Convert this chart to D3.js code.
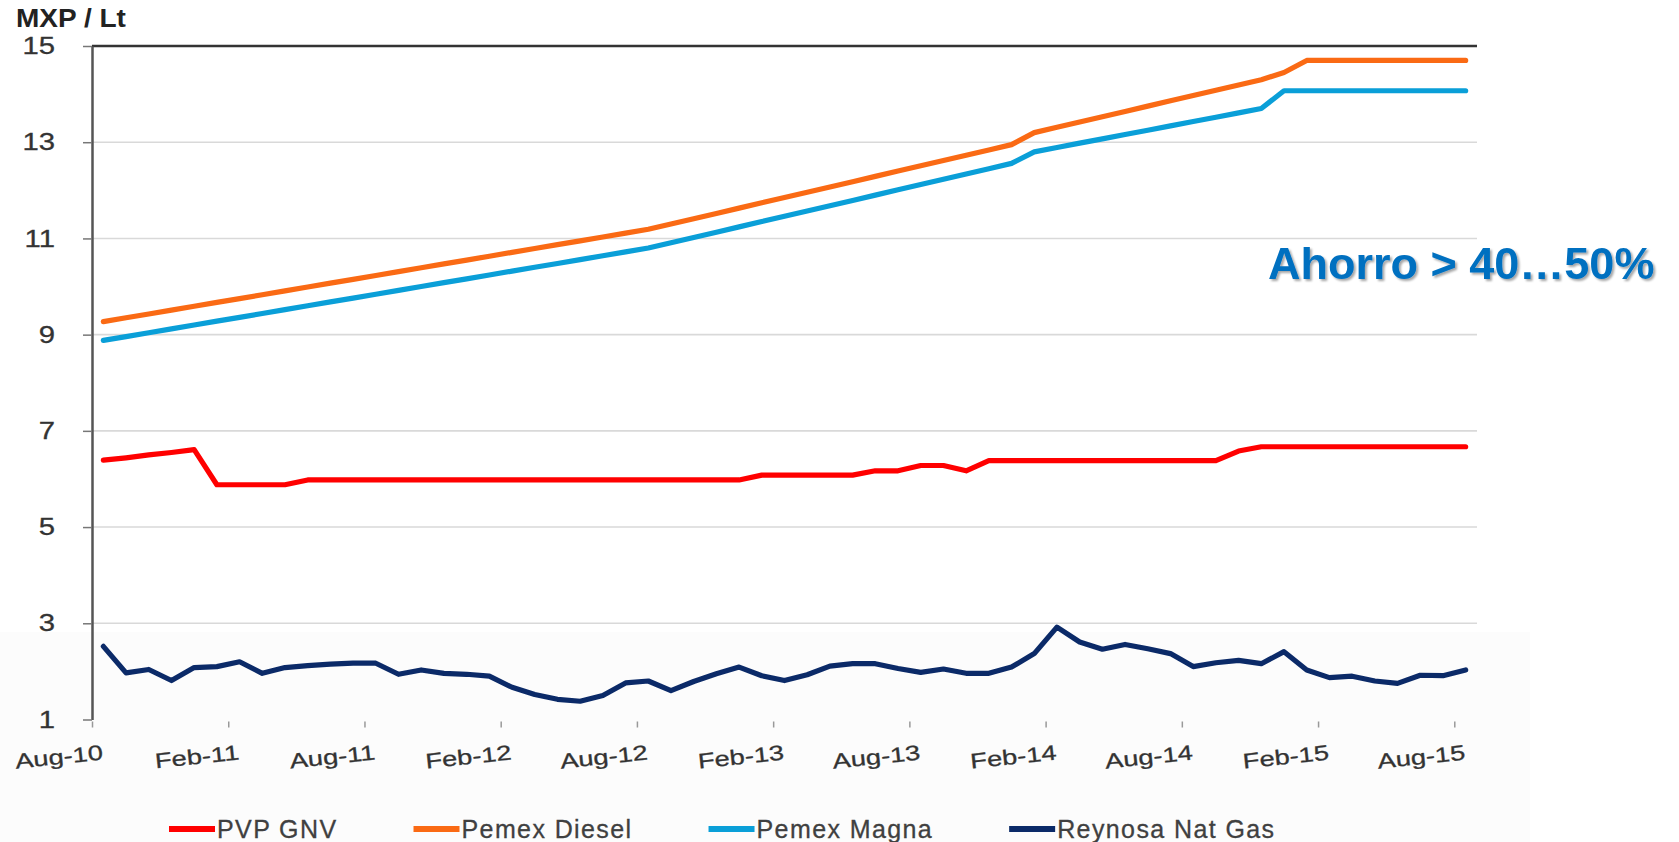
<!DOCTYPE html>
<html>
<head>
<meta charset="utf-8">
<script src="https://cdn.jsdelivr.net/npm/d3@7"></script>
<style>
  html, body { margin: 0; padding: 0; background: #fff; }
  svg { display: block; }
  text { font-family: "Liberation Sans", Arial, sans-serif; }
</style>
</head>
<body>
<div id="chart"></div>
<script>
// month index 0 = Aug-10 ... 60 = Aug-15
var tickLabels = ["Aug-10", "Feb-11", "Aug-11", "Feb-12", "Aug-12", "Feb-13", "Aug-13", "Feb-14", "Aug-14", "Feb-15", "Aug-15"];
var yTicks = [1, 3, 5, 7, 9, 11, 13, 15];

var pvpGnv = [6.39, 6.44, 6.50, 6.55, 6.61, 5.88, 5.88, 5.88, 5.88, 5.98,
  5.98, 5.98, 5.98, 5.98, 5.98, 5.98, 5.98, 5.98, 5.98, 5.98,
  5.98, 5.98, 5.98, 5.98, 5.98, 5.98, 5.98, 5.98, 5.98, 6.08,
  6.08, 6.08, 6.08, 6.08, 6.17, 6.17, 6.28, 6.28, 6.17, 6.38,
  6.38, 6.38, 6.38, 6.38, 6.38, 6.38, 6.38, 6.38, 6.38, 6.38,
  6.58, 6.67, 6.67, 6.67, 6.67, 6.67, 6.67, 6.67, 6.67, 6.67, 6.67];

var pemexDiesel = [9.27, 9.35, 9.43, 9.51, 9.59, 9.67, 9.75, 9.83, 9.91, 9.99,
  10.07, 10.15, 10.23, 10.31, 10.39, 10.47, 10.55, 10.63, 10.71, 10.79,
  10.87, 10.95, 11.03, 11.11, 11.19, 11.30, 11.41, 11.52, 11.63, 11.74,
  11.85, 11.96, 12.07, 12.18, 12.29, 12.40, 12.51, 12.62, 12.73, 12.84,
  12.95, 13.20, 13.31, 13.42, 13.53, 13.64, 13.75, 13.86, 13.97, 14.08,
  14.19, 14.30, 14.45, 14.70, 14.70, 14.70, 14.70, 14.70, 14.70, 14.70, 14.70];

var pemexMagna = [8.88, 8.96, 9.04, 9.12, 9.20, 9.28, 9.36, 9.44, 9.52, 9.60,
  9.68, 9.76, 9.84, 9.92, 10.00, 10.08, 10.16, 10.24, 10.32, 10.40,
  10.48, 10.56, 10.64, 10.72, 10.80, 10.91, 11.02, 11.13, 11.24, 11.35,
  11.46, 11.57, 11.68, 11.79, 11.90, 12.01, 12.12, 12.23, 12.34, 12.45,
  12.56, 12.80, 12.89, 12.98, 13.07, 13.16, 13.25, 13.34, 13.43, 13.52,
  13.61, 13.70, 14.07, 14.07, 14.07, 14.07, 14.07, 14.07, 14.07, 14.07, 14.07];

var reynosaNatGas = [2.52, 1.97, 2.04, 1.81, 2.08, 2.10, 2.20, 1.96, 2.08, 2.12,
  2.15, 2.17, 2.17, 1.94, 2.03, 1.96, 1.94, 1.90, 1.67, 1.52,
  1.42, 1.38, 1.50, 1.76, 1.80, 1.60, 1.79, 1.95, 2.09, 1.91,
  1.81, 1.93, 2.11, 2.16, 2.16, 2.06, 1.98, 2.05, 1.96, 1.96,
  2.09, 2.37, 2.92, 2.61, 2.46, 2.56, 2.47, 2.37, 2.10, 2.18,
  2.23, 2.16, 2.41, 2.03, 1.87, 1.90, 1.80, 1.75, 1.92, 1.91, 2.03];

var seriesNames = ["PVP GNV", "Pemex Diesel", "Pemex Magna", "Reynosa Nat Gas"];
var seriesColors = ["#ff0000", "#fa6a14", "#0a9fd8", "#0b2a68"];
var seriesData = [pvpGnv, pemexDiesel, pemexMagna, reynosaNatGas];

var W = 1679, H = 842;
var svg = d3.select("#chart").append("svg").attr("width", W).attr("height", H);

// drop shadow for the note
var defs = svg.append("defs");
defs.append("filter").attr("id", "shadow")
  .append("feDropShadow")
  .attr("dx", 2).attr("dy", 2).attr("stdDeviation", 1.2)
  .attr("flood-color", "#000").attr("flood-opacity", 0.35);

// faint lower band seen in the picture
svg.append("rect").attr("x", 0).attr("y", 632).attr("width", 1530).attr("height", H - 632).attr("fill", "#fcfcfc");

var x = d3.scaleLinear().domain([0, 61]).range([92, 1477]);
var y = d3.scaleLinear().domain([1, 15]).range([719.5, 46]);

// gridlines
svg.append("g")
  .selectAll("line")
  .data(yTicks.filter(function (d) { return d > 1; }))
  .enter()
  .append("line")
  .attr("x1", x(0))
  .attr("x2", x(61))
  .attr("y1", function (d) { return y(d); })
  .attr("y2", function (d) { return y(d); })
  .attr("stroke", function (d) { return d == 15 ? "#333" : "#d9d9d9"; })
  .attr("stroke-width", function (d) { return d == 15 ? 2.5 : 1.6; });

// y axis
var yAxis = svg.append("g")
  .attr("transform", "translate(" + x(0) + ",0)")
  .call(d3.axisLeft(y).tickValues(yTicks).tickSize(9).tickSizeOuter(0));
yAxis.select(".domain").attr("stroke", "#555").attr("stroke-width", 2.5);
yAxis.selectAll(".tick line").attr("stroke", "#777").attr("stroke-width", 1.5);
yAxis.selectAll(".tick text")
  .style("font-size", "24px")
  .attr("fill", "#333")
  .attr("stroke", "#333")
  .attr("stroke-width", 0.3)
  .attr("x", 0)
  .attr("transform", "translate(-37,0) scale(1.22,1)");

// x axis
var xAxis = svg.append("g")
  .attr("transform", "translate(0," + y(1) + ")")
  .call(d3.axisBottom(x)
    .tickValues(d3.range(0, 61, 6))
    .tickFormat(function (d, i) { return tickLabels[i]; })
    .tickSizeOuter(0)
    .tickSize(8));
xAxis.select(".domain").remove();
xAxis.selectAll(".tick line").attr("stroke", "#999").attr("stroke-width", 1.5).attr("y1", 2).attr("y2", 8);
xAxis.selectAll(".tick text")
  .attr("x", 0).attr("y", 0).attr("dy", 0)
  .attr("text-anchor", "end")
  .attr("transform", "translate(11,40) rotate(-6) scale(1.3,1)")
  .style("font-size", "21px")
  .attr("fill", "#333")
  .attr("stroke", "#333")
  .attr("stroke-width", 0.3);

// series lines
var line = d3.line()
  .x(function (d, i) { return x(i + 0.5); })
  .y(function (d) { return y(d); });

svg.append("g")
  .selectAll("path")
  .data(seriesData)
  .enter()
  .append("path")
  .attr("d", line)
  .attr("fill", "none")
  .attr("stroke", function (d, i) { return seriesColors[i]; })
  .attr("stroke-width", 5.2)
  .attr("stroke-linejoin", "round")
  .attr("stroke-linecap", "round");

// axis title
svg.append("text")
  .attr("x", 16).attr("y", 27)
  .style("font-size", "25px")
  .style("font-weight", "bold")
  .attr("fill", "#222")
  .attr("transform", "translate(16,0) scale(1.12,1) translate(-16,0)")
  .text("MXP / Lt");

// note
svg.append("text")
  .attr("x", 1268).attr("y", 279)
  .style("font-size", "45px")
  .style("font-weight", "bold")
  .attr("fill", "#0070c0")
  .attr("filter", "url(#shadow)")
  .text("Ahorro > 40…50%");

// legend
var legend = svg.append("g").attr("transform", "translate(169,829)");
var lx = 0;
seriesNames.forEach(function (name, i) {
  var g = legend.append("g").attr("transform", "translate(" + lx + ",0)");
  g.append("line")
    .attr("x1", 0).attr("x2", 46)
    .attr("stroke", seriesColors[i])
    .attr("stroke-width", 6);
  var t = g.append("text")
    .attr("x", 48).attr("y", 9)
    .style("font-size", "25px")
    .style("letter-spacing", "1.4px")
    .attr("fill", "#404040")
    .attr("stroke", "#404040")
    .attr("stroke-width", 0.3)
    .text(name);
  lx += 48 + t.node().getComputedTextLength() + 76;
});
</script>
</body>
</html>
